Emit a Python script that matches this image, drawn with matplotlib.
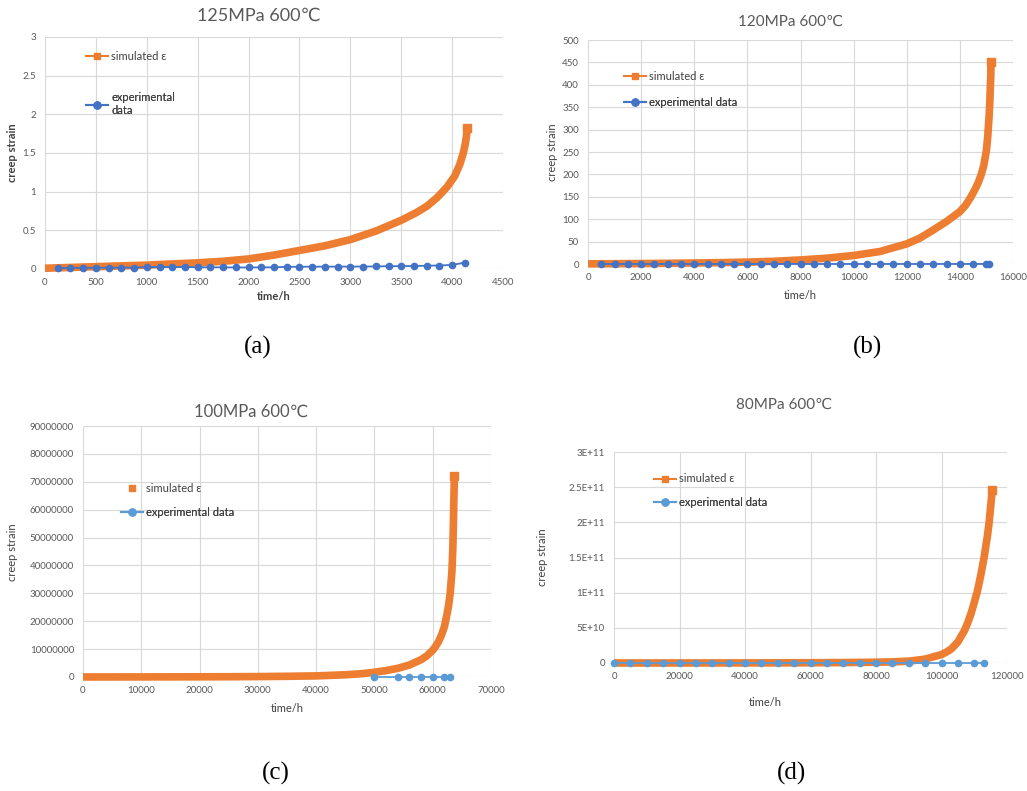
import matplotlib
matplotlib.use("Agg")
import matplotlib.pyplot as plt
from matplotlib.lines import Line2D

plt.rcParams["font.family"] = ["Lato", "DejaVu Sans"]

W, H = 1027, 791

ORANGE = "#ED7D31"
BLUE_DARK = "#4472C4"
BLUE_LIGHT = "#5B9BD5"
GRID = "#D9D9D9"
TEXT = "#595959"

# ---- (a) 125MPa 600℃ ----
a_t_sim = [0, 250, 500, 750, 1000, 1250, 1500, 1750, 2000, 2250, 2500, 2750,
           3000, 3250, 3500, 3650, 3750, 3850, 3950, 4025, 4075, 4110, 4130,
           4142, 4150]
a_e_sim = [0.01, 0.02, 0.03, 0.04, 0.05, 0.065, 0.08, 0.10, 0.13, 0.18, 0.24, 0.30,
           0.38, 0.49, 0.63, 0.73, 0.81, 0.92, 1.06, 1.20, 1.35, 1.50, 1.62,
           1.73, 1.82]
a_t_exp = [125, 250, 375, 500, 625, 750, 875, 1000, 1125, 1250, 1375, 1500, 1625,
           1750, 1875, 2000, 2125, 2250, 2375, 2500, 2625, 2750, 2875, 3000, 3125,
           3250, 3375, 3500, 3625, 3750, 3875, 4000, 4125]
a_e_exp = [0.012, 0.014, 0.015, 0.016, 0.017, 0.018, 0.019, 0.024, 0.025, 0.025,
           0.026, 0.022, 0.022, 0.021, 0.020, 0.020, 0.021, 0.022, 0.028, 0.029,
           0.030, 0.030, 0.031, 0.031, 0.032, 0.033, 0.036, 0.037, 0.038, 0.043,
           0.045, 0.053, 0.082]
a_xticks = [0, 500, 1000, 1500, 2000, 2500, 3000, 3500, 4000, 4500]
a_yticks = [0, 0.5, 1, 1.5, 2, 2.5, 3]
a_ylabels = ["0", "0.5", "1", "1.5", "2", "2.5", "3"]

# ---- (b) 120MPa 600℃ ----
b_t_sim = [0, 1000, 2000, 3000, 4000, 5000, 6000, 7000, 8000, 9000, 10000, 11000,
           12000, 12500, 13000, 13500, 14000, 14200, 14400, 14600, 14700, 14800,
           14900, 15000, 15050, 15100, 15130, 15150, 15165, 15170]
b_e_sim = [0.3, 0.6, 1, 1.5, 2.2, 3, 4.2, 6, 9, 13, 19, 28,
           45, 58, 76, 95, 117, 130, 148, 170, 183, 199,
           220, 254, 285, 330, 365, 400, 423, 450]
b_t_exp = [500, 1000, 1500, 2000, 2500, 3000, 3500, 4000, 4500, 5000, 5500, 6000,
           6500, 7000, 7500, 8000, 8500, 9000, 9500, 10000, 10500, 11000, 11500,
           12000, 12500, 13000, 13500, 14000, 14500, 15000, 15100]
b_e_exp = [0.01, 0.01, 0.01, 0.01, 0.02, 0.02, 0.02, 0.02, 0.02, 0.03, 0.03, 0.03,
           0.03, 0.03, 0.04, 0.04, 0.04, 0.04, 0.05, 0.05, 0.05, 0.05, 0.06,
           0.06, 0.06, 0.07, 0.07, 0.08, 0.09, 0.10, 0.12]
b_xticks = [0, 2000, 4000, 6000, 8000, 10000, 12000, 14000, 16000]
b_yticks = [0, 50, 100, 150, 200, 250, 300, 350, 400, 450, 500]
b_ylabels = [str(v) for v in b_yticks]

# ---- (c) 100MPa 600℃ ----
c_t_sim = [0, 5000, 10000, 15000, 20000, 25000, 30000, 35000, 40000, 42000, 45000,
           48000, 50000, 52000, 54000, 56000, 58000, 59000, 60000, 60500, 61000,
           61500, 62000, 62250, 62500, 62750, 63000, 63300, 63450, 63550, 63620,
           63680, 63700]
c_e_sim = [1e4, 2e4, 3e4, 5e4, 7e4, 1e5, 1.5e5, 2.5e5, 4e5, 5.5e5, 8e5,
           1.2e6, 1.7e6, 2.3e6, 3.1e6, 4.3e6, 6.2e6, 7.6e6, 9.6e6, 11e6, 12.7e6,
           15e6, 18e6, 20.5e6, 23e6, 26e6, 30e6, 38e6, 46e6, 55e6, 63e6,
           68e6, 72e6]
c_t_exp = [50000, 54000, 56000, 58000, 60000, 62000, 63000]
c_e_exp = [0.05, 0.06, 0.07, 0.08, 0.09, 0.11, 0.13]
c_xticks = [0, 10000, 20000, 30000, 40000, 50000, 60000, 70000]
c_yticks = [0, 10000000, 20000000, 30000000, 40000000, 50000000, 60000000,
            70000000, 80000000, 90000000]
c_ylabels = [str(v) for v in c_yticks]

# ---- (d) 80MPa 600℃ ----
d_t_sim = [0, 10000, 20000, 30000, 40000, 50000, 60000, 70000, 80000, 85000, 90000,
           95000, 100000, 101500, 103000, 104000, 105000, 106000, 107000, 108000,
           109000, 110000, 111000, 112000, 113000, 114000, 114500, 115000, 115500]
d_e_sim = [1e7, 2e7, 4e7, 7e7, 1.2e8, 2e8, 3.5e8, 6e8, 1.1e9, 1.6e9, 2.6e9,
           5.5e9, 1.2e10, 1.55e10, 2.0e10, 2.5e10, 3.0e10, 3.8e10, 4.6e10, 5.7e10,
           7.0e10, 8.6e10, 1.03e11, 1.25e11, 1.5e11, 1.8e11, 1.98e11, 2.22e11, 2.46e11]
d_t_exp = [0, 5000, 10000, 15000, 20000, 25000, 30000, 35000, 40000, 45000, 50000,
           55000, 60000, 65000, 70000, 75000, 80000, 85000, 90000, 95000, 100000,
           105000, 110000, 113000]
d_e_exp = [0.0, 0.01, 0.01, 0.02, 0.02, 0.03, 0.03, 0.04, 0.04, 0.05, 0.05,
           0.06, 0.06, 0.07, 0.07, 0.08, 0.08, 0.09, 0.09, 0.10, 0.11,
           0.12, 0.14, 0.16]
d_xticks = [0, 20000, 40000, 60000, 80000, 100000, 120000]
d_yticks = [0, 5e10, 1e11, 1.5e11, 2e11, 2.5e11, 3e11]
d_ylabels = ["0", "5E+10", "1E+11", "1.5E+11", "2E+11", "2.5E+11", "3E+11"]


fig = plt.figure(figsize=(W / 100, H / 100), dpi=100)


def fig_text(x, y, s, **kw):
    fig.text(x / W, 1 - y / H, s, ha="center", va="center", **kw)


def panel(box, t_sim, e_sim, t_exp, e_exp, blue, xticks, yticks, ylabels,
          title, title_xy, title_size, xlab_xy, ylab_xy, lab_weight,
          keys, sim_key_line=True, exp_label="experimental data"):
    left, top, right, bottom = box
    ax = fig.add_axes([left / W, 1 - bottom / H, (right - left) / W, (bottom - top) / H])

    ax.plot(t_sim, e_sim, color=ORANGE, lw=5.5, solid_capstyle="butt",
            solid_joinstyle="round", marker="s", ms=5.5,
            markevery=[len(t_sim) - 1], clip_on=False, zorder=3)
    ax.plot(t_exp, e_exp, color=blue, lw=1.3, marker="o", ms=4.5,
            clip_on=False, zorder=4)

    ax.set_xlim(xticks[0], xticks[-1])
    ax.set_ylim(yticks[0], yticks[-1])
    ax.set_xticks(xticks)
    ax.set_xticklabels([str(v) for v in xticks])
    ax.set_yticks(yticks)
    ax.set_yticklabels(ylabels)
    ax.tick_params(length=0, colors=TEXT, labelsize=7, pad=6.5)
    ax.grid(True, color=GRID, lw=0.8)
    ax.set_axisbelow(True)
    for sp in ax.spines.values():
        sp.set_visible(False)

    fig_text(title_xy[0], title_xy[1], title, fontsize=title_size, color=TEXT)
    fig_text(xlab_xy[0], xlab_xy[1], "time/h", fontsize=8, color="#404040",
             fontweight=lab_weight)
    fig_text(ylab_xy[0], ylab_xy[1], "creep strain", fontsize=8, color="#404040",
             rotation=90, fontweight=lab_weight)

    sim_h = Line2D([], [], color=ORANGE, lw=1.5 if sim_key_line else 0,
                   ls="-" if sim_key_line else "none", marker="s", ms=5)
    exp_h = Line2D([], [], color=blue, lw=1.5, marker="o", ms=5)
    for h, lab, (kx, ky) in zip([sim_h, exp_h], ["simulated ε", exp_label], keys):
        fx = (kx - left) / (right - left)
        fy = (bottom - ky) / (bottom - top)
        leg = ax.legend([h], [lab], loc="center left", bbox_to_anchor=(fx, fy),
                        frameon=False, borderpad=0, borderaxespad=0,
                        handlelength=2.0, handletextpad=0.25, fontsize=8,
                        labelcolor="#404040")
        ax.add_artist(leg)
    return ax


panel((45, 37, 503, 269), a_t_sim, a_e_sim, a_t_exp, a_e_exp, BLUE_DARK,
      a_xticks, a_yticks, a_ylabels, "125MPa 600℃", (259, 16), 13,
      (274, 297), (13, 153), "bold", [(86, 56), (86, 104)],
      exp_label="experimental\ndata")

panel((588, 40, 1013, 264), b_t_sim, b_e_sim, b_t_exp, b_e_exp, BLUE_DARK,
      b_xticks, b_yticks, b_ylabels, "120MPa 600℃", (791, 22), 11,
      (800, 295), (552, 152), "normal", [(624, 76), (624, 102)])

panel((83, 426, 491, 677), c_t_sim, c_e_sim, c_t_exp, c_e_exp, BLUE_LIGHT,
      c_xticks, c_yticks, c_ylabels, "100MPa 600℃", (251, 412), 12,
      (287, 709), (13, 552), "normal", [(121, 488), (121, 512)],
      sim_key_line=False)

panel((614, 452, 1007, 663), d_t_sim, d_e_sim, d_t_exp, d_e_exp, BLUE_LIGHT,
      d_xticks, d_yticks, d_ylabels, "80MPa 600℃", (784, 405), 11,
      (765, 703), (543, 557), "normal", [(654, 479), (654, 502)])

for s, x, y in [("(a)", 258, 347), ("(b)", 867, 347), ("(c)", 276, 773), ("(d)", 792, 773)]:
    fig_text(x, y, s, fontsize=18, family="Liberation Serif", color="black")

fig.savefig("out.png", dpi=100)
